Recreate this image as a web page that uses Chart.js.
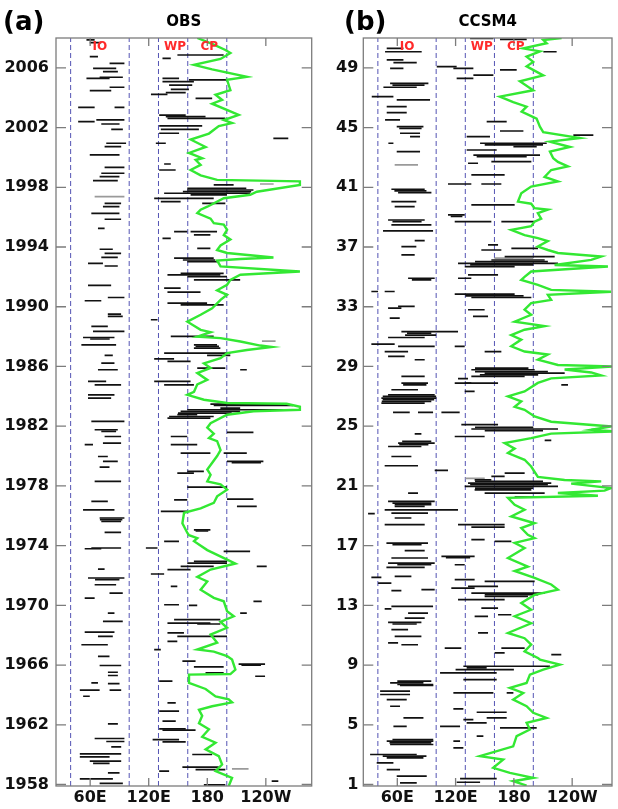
<!DOCTYPE html>
<html><head><meta charset="utf-8">
<script src="https://cdn.jsdelivr.net/npm/chart.js@4/dist/chart.umd.min.js"></script>
<style>
html,body{margin:0;padding:0;background:#fff;}
#wrap{position:relative;width:618px;height:809px;overflow:hidden;}
canvas{position:absolute;top:0;}
</style></head><body>
<div id="wrap"><canvas id="ca" width="318" height="809" style="left:0"></canvas><canvas id="cb" width="300" height="809" style="left:318px"></canvas></div>
<script>
// ---------- data ----------
const lonTicks = [60, 120, 180, 240];
const lonTickLabels = ['60E', '120E', '180', '120W'];
const regionBounds = [40, 100, 130, 160, 200];
const regionNames = ['IO', 'WP', 'CP'];
const regionCenters = [70, 147, 182];
const yearTicksA = [1958, 1962, 1966, 1970, 1974, 1978, 1982, 1986, 1990, 1994, 1998, 2002, 2006];
const yearTicksB = [1, 5, 9, 13, 17, 21, 25, 29, 33, 37, 41, 45, 49];

// green line: [time, longitude]
const greenA = [[2008.0,169.8],[2007.6,185],[2007.2,198.6],[2007.0,203.7],[2006.6,193.6],[2006.2,166.4],[2005.9,185],[2005.4,220.6],[2005.2,200.3],[2004.5,203.7],[2004.2,188.5],[2003.85,195.2],[2003.6,185],[2002.85,212.2],[2002.5,197],[2002.3,205.4],[2002.1,191.8],[2001.6,181.7],[2001.2,163],[2000.7,178.3],[2000.3,161.3],[1999.95,174.8],[1999.83,168.1],[1999.5,173.2],[1999.16,163],[1998.8,173.2],[1998.5,190.1],[1998.4,274.9],[1998.16,274.9],[1997.7,230.8],[1997.5,224],[1997.27,196.9],[1996.7,180],[1996.5,173.2],[1996.27,169.8],[1995.9,183.4],[1995.6,186.7],[1995.5,196.9],[1995.15,200.3],[1994.8,196.9],[1994.5,203.7],[1994.1,193.6],[1993.8,190.1],[1993.6,200.3],[1993.3,247.8],[1993.2,213.9],[1993.1,190.1],[1992.7,193.6],[1992.36,274.9],[1992.14,213.9],[1991.8,203.7],[1991.47,200.3],[1991.1,190.1],[1990.8,200.3],[1990.46,193.6],[1989.9,185],[1989.46,173.2],[1989.0,159.6],[1988.45,173.2],[1988.3,183.4],[1988.0,169.8],[1987.9,193.6],[1987.67,213.9],[1987.4,234.3],[1987.3,246],[1987.1,220.6],[1986.9,200.3],[1986.56,193.6],[1986.2,176.6],[1985.9,183.4],[1985.56,169.8],[1985.1,180],[1984.8,169.8],[1984.3,166.4],[1984.1,159.6],[1983.77,176.6],[1983.55,200.3],[1983.5,261.3],[1983.3,274.9],[1983.1,274.9],[1983.0,227.4],[1982.77,200.3],[1982.2,183.4],[1981.9,180],[1981.5,186.7],[1981.2,181.7],[1981.0,190.1],[1980.4,193.6],[1980.0,190.1],[1979.4,183.4],[1979.1,180],[1978.75,183.4],[1978.3,180],[1978.1,193.6],[1977.75,200.3],[1977.3,190.1],[1976.86,186.7],[1976.5,173.2],[1976.2,156.2],[1975.5,154.5],[1974.85,159.6],[1974.7,161.3],[1974.5,169.8],[1974.3,166.4],[1973.7,180],[1973.06,200.3],[1972.8,208.8],[1972.4,183.4],[1971.9,169.8],[1971.6,180],[1971.05,173.2],[1970.5,186.7],[1970.27,196.9],[1969.6,200.3],[1969.27,207.1],[1968.9,193.6],[1968.5,200.3],[1968.04,183.4],[1967.5,190.1],[1967.04,169.8],[1966.9,186.7],[1966.6,200.3],[1966.37,205.4],[1965.7,208.8],[1965.4,203.7],[1965.36,161.3],[1964.8,161.3],[1964.4,178.3],[1963.9,188.5],[1963.7,202],[1963.5,205.4],[1963.24,185],[1963.0,171.5],[1962.6,174.8],[1962.1,171.5],[1961.7,181.7],[1961.2,174.8],[1960.8,188.5],[1960.35,178.3],[1959.9,191.8],[1959.34,195.2],[1958.9,188.5],[1958.45,205.4],[1957.9,202]];

const greenB = [[51.0,229.1],[50.87,210.2],[50.65,213.7],[50.3,189.6],[50.1,206.8],[49.75,193.1],[49.4,199.9],[49.1,193.1],[48.5,210.2],[48.1,186.2],[47.5,199.9],[47.07,165.6],[46.7,179.3],[46.4,193.1],[46.07,188],[45.6,203.4],[45.06,206.8],[44.7,210.2],[44.3,248],[44.06,217.1],[43.7,237.7],[43.4,217.1],[42.95,220.5],[42.7,225.3],[42.4,235.6],[42.16,218.4],[41.7,211.6],[41.4,225.3],[41.05,197.8],[40.6,187.6],[40.04,184.2],[39.9,197.8],[39.6,201.3],[39.5,215],[39.27,204.7],[38.9,208.1],[38.7,201.3],[38.4,197.8],[38.15,177.3],[37.8,191],[37.6,204.7],[37.4,215],[37.03,204.7],[36.8,215],[36.6,225.3],[36.36,269.9],[36.14,259.6],[35.8,221.9],[35.7,276.8],[35.36,197.8],[35.0,191],[34.8,187.6],[34.47,204.7],[34.13,218.4],[34.0,280],[33.8,215],[33.46,218.4],[33.24,197.8],[32.8,191],[32.46,197.8],[32.0,180.8],[31.7,211.6],[31.46,191],[31.1,177.3],[30.8,187.6],[30.35,177.3],[30.0,191],[29.8,215],[29.45,204.7],[29.1,225.3],[29.0,284],[28.8,232.2],[28.6,259.6],[28.4,269.9],[28.2,218.4],[27.9,204.7],[27.33,191],[27.0,173.9],[26.66,187.6],[26.3,180.8],[26.1,191],[25.65,201.3],[25.3,218.4],[24.98,280],[24.76,259.6],[24.65,283],[24.5,218.4],[24.2,197.8],[23.87,170.5],[23.5,180.8],[23.2,173.9],[22.75,191],[22.3,197.8],[21.6,204.7],[21.4,232.2],[21.3,269.9],[21.15,239],[20.86,280],[20.68,273.3],[20.52,225.3],[20.34,266.5],[20.2,173.9],[19.74,180.8],[19.4,191],[18.96,177.3],[18.5,201.3],[18.18,187.6],[17.73,194.4],[17.5,201.3],[17.18,180.8],[16.84,191],[16.17,173.9],[15.6,194.4],[15.3,180.8],[14.84,201.3],[14.4,218.4],[14.05,225.3],[13.7,201.3],[13.16,187.6],[12.7,197.8],[12.27,180.8],[11.8,197.8],[11.15,173.9],[10.8,191],[10.37,197.8],[9.92,191],[9.48,204.7],[9.37,206.8],[9.03,227.4],[8.7,210.2],[8.36,196.5],[7.8,193.1],[7.47,175.9],[7.13,189.6],[6.69,179.3],[6.24,193.1],[5.8,199.9],[5.46,213.7],[5.13,193.1],[4.68,196.5],[4.24,182.8],[3.56,179.3],[2.9,145],[2.67,169],[2.12,158.7],[1.78,175.9],[1.45,199.9],[1.22,179.3],[0.93,193.1]];

// events: [time, west longitude, east longitude]
const eventsA = [
[2007.87,56.2,64.6],[2007.69,59.6,71.4],[2006.75,59.6,68],[2006.3,79.9,95.1],[2005.97,63,86.7],[2005.75,73.1,88.4],[2005.3,56.2,79.9],[2005.37,69.7,93.5],[2004.7,79.9,95.1],[2004.47,59.6,81.6],[2003.36,47.7,64.6],[2003.36,85,95.1],[2002.51,66.3,95.1],[2002.4,47.7,64.6],[2002.24,71.4,90.1],[2001.88,81.6,93.5],[2000.95,76.5,96.8],[2000.72,74.8,91.8],[2000.17,59.6,90.1],
[2006.86,149.4,196.8],[2006.64,134.1,142.6],[2005.3,134.1,151.1],[2005.08,134.1,166.3],[2004.85,140.9,164.6],[2005.19,161.2,200.2],[2004.23,122.3,139.2],[2004.34,137.5,157.9],[2004.56,142.6,161.2],[2003.96,168,185],[2002.84,130.7,157.9],[2002.73,137.5,178.2],[2002.62,139.2,198.5],[2002.11,130.7,174.8],[2001.88,132.4,171.4],[2001.62,130.7,151.1],[2000.95,127.3,137.5],[2001.28,247.7,263],
[1999.34,74.8,95.1],[1998.94,71.4,95.1],[1998.71,69.7,90],[1998.45,62.9,88.3],[1996.93,74.8,91.7],[1996.7,73.1,90],[1996.26,61.2,90],[1995.86,74.8,91.7],[1995.25,68,74.8],[1993.85,69.7,83.2],[1993.58,74.8,91.7],[1993.31,71.4,88.3],[1992.91,57.8,73.1],[1992.73,74.8,88.3],
[1999.56,135.8,142.6],[1999.16,130.7,147.6],[1998.16,186.6,207],[1997.93,159.5,220],[1997.82,159.5,227.3],[1997.71,155,225],[1997.6,135.8,223.9],[1997.49,162.9,200.2],[1997.26,125.6,186.6],[1997.04,132.4,152.7],[1996.93,174.8,198.5],[1995.03,146,159.5],[1995.03,162.9,190],[1994.81,166.3,183.2],[1994.58,134.1,142.6],[1993.91,169.7,183.2],[1993.25,146,186.6],[1993.13,155,188],[1993.02,159.5,190],[1992.24,152.7,196.8],[1992.13,139.2,193.4],[1992.02,159.5,200.2],[1991.8,166.3,213.7],
[1991.43,57.8,81.5],[1990.62,78.1,95.1],[1990.4,54.4,71.4],[1989.51,78.1,91.7],[1989.35,78.1,93.4],[1988.68,61.2,78.1],[1988.35,62.9,95.1],[1987.94,52.7,84.9],[1987.84,60,80],[1987.45,51,86.6],[1986.74,74.8,83.2],[1986.23,71.4,84.9],[1985.78,68,88.3],[1985.0,57.8,76.4],[1984.77,64.6,91.7],[1984.1,57.8,84.9],[1983.88,57.8,81.5],
[1991.25,135.8,152.7],[1990.98,139.2,173.1],[1990.24,139.2,179.8],[1990.13,152.7,196.8],[1989.13,122.2,129],[1988.01,142.6,186.6],[1987.45,166.3,190],[1987.34,168,192],[1987.23,166.3,193.4],[1986.9,135.8,203.6],[1986.74,179.8,203.6],[1986.51,125.6,146],[1986.34,139.2,162.9],[1985.89,169.7,198.5],[1985.78,213.7,220.5],[1985.0,125.6,162.9],[1984.77,135.8,166.3],[1983.48,183.2,261.2],[1983.39,186.6,268],[1983.21,193.4,213.7],
[1983.1,159.5,268],[1982.99,152.7,213.7],[1982.88,150,205],[1982.77,149.3,169.7],[1982.65,140.9,186.6],[1982.54,139.2,183.2],
[1982.32,61.2,95.1],[1981.76,64.6,88.3],[1981.65,71.4,86.6],[1981.31,74.8,91.7],[1980.76,54.4,62.9],[1980.87,73.1,91.7],[1979.97,68,78.1],[1979.64,73.1,88.3],[1979.26,69.7,79.8],[1978.3,64.6,91.7],[1976.96,61.2,78.1],[1976.4,52.7,84.9],[1975.85,69.7,95.1],[1975.74,70,93],[1975.62,71.4,91.7],[1974.89,74.8,91.7],
[1981.58,200.2,227.3],[1981.31,142.6,159.5],[1980.76,142.6,169.7],[1980.2,152.7,183.2],[1980.2,196.8,220.5],[1979.64,200.2,237.5],[1979.55,205,235],[1978.86,149.3,166.3],[1978.97,159.5,176.5],[1977.92,159.5,200.2],[1977.12,200.2,227.3],[1976.63,210.4,230.7],[1977.07,146,159.5],[1976.29,132.4,159.5],[1975.06,166.3,183.2],[1974.98,168,181],
[1973.84,61.2,91.7],[1973.79,54.4,71.4],[1972.43,68,74.8],[1971.83,57.8,95.1],[1971.72,65,90],[1971.38,64.6,86.6],[1970.82,79.8,93.4],[1970.49,54.4,64.6],[1969.48,78.1,84.9],[1968.93,73.1,93.4],[1968.21,54.4,84.9],[1967.92,68,83.2],[1967.36,51,78.1],[1966.58,68,79.8],
[1974.28,135.8,151],[1973.84,117.1,129],[1972.94,166.3,200.2],[1972.83,159.5,200.2],[1972.61,152.7,186.6],[1972.39,139.2,162.9],[1972.1,122.2,135.8],[1973.61,196.8,223.9],[1971.27,142.6,149.3],[1970.04,135.8,151],[1970.0,161.2,169.7],[1969.04,146,193.4],[1968.81,139.2,183.2],[1968.75,169.7,193.4],[1968.15,139.2,156.1],[1967.92,149.3,200.2],[1967.59,139.2,149.3],[1967.03,125.6,132.4],[1969.48,213.7,220.5],[1972.61,230.7,240.9],[1970.27,227.3,235.8],
[1965.97,69.7,91.8],[1965.52,78.2,88.4],[1965.3,78.2,88.4],[1964.81,61.2,68],[1964.76,78.2,90.1],[1964.32,49.4,69.7],[1964.32,79.9,91.8],[1963.91,52.8,59.6],[1962.06,78.2,88.4],[1961.08,64.6,95.1],[1960.88,76.5,95.1],[1960.52,81.6,91.8],[1960.05,49.4,91.8],[1959.85,49.4,79.9],[1959.56,59.6,91.8],[1959.41,63,79.9],[1958.78,78.2,90.1],[1958.38,49.4,83.3],[1958.07,69.7,93.5],
[1966.26,154.5,168],[1966.06,212.1,239.2],[1966.0,215,235],[1965.88,166.3,196.8],[1965.48,178.2,196.8],[1965.25,229.1,239.2],[1964.92,130.7,144.3],[1963.47,139.2,147.7],[1962.91,130.7,151.1],[1962.24,134.1,147.7],[1961.73,130.7,157.9],[1961.64,134.1,168],[1961.01,124,151.1],[1960.86,134.1,157.9],[1960.01,164.6,185],[1959.16,154.5,191.8],[1959.0,168,198.5],[1958.89,130.7,140.9],[1958.22,246,252.8],[1957.98,176.5,198.5]
];
const eventsGrayA = [[1959.05,205.3,222.3],[1997.37,64.6,95.1],[1998.22,234,248],[1987.7,236,250]];

const eventsB = [
[50.08,47.4,85.1],[50.31,49.1,66.3],[49.53,49.1,66.3],[49.35,56,80],[48.97,52.6,66.3],[47.96,52.6,92],[47.85,55,88],[47.7,45.7,80],[47.07,33.7,56],[46.85,59.4,93.7],[46.4,49.1,69.7],[46.0,49.1,69.7],[45.51,47.4,62.8],[45.06,59.4,86.9],[44.95,62,85],[44.62,62.8,83.4],[44.39,73.1,83.4],[43.95,50.8,56],[43.39,59.4,83.4],
[49.08,100.6,121.1],[48.97,117.7,138.3],[48.52,138.3,158.9],[48.3,121.1,138.3],[48.86,165.7,182.9],[50.08,210.3,224],[50.98,134.9,158.9],[50.91,165.7,193.2],[45.4,152,172.6],[44.77,165.7,189.8],[44.39,131.4,155.4],[43.95,145.2,213.8],[43.84,150,210],[43.72,179.5,203.5],[43.5,131.4,162.3],[44.5,241.2,261.8],[43.16,138.3,206.9],[43.05,141.7,193.2],
[40.87,53.9,88.2],[40.76,57,90],[40.64,60.8,95.1],[40.04,53.9,79.6],[39.71,57.3,77.9],[38.81,50.5,88.2],[38.7,55,85],[38.48,53.9,95.1],[38.08,45.3,96.8],[37.43,77.9,88.2],[37.03,64.2,79.6],[36.47,64.2,77.9],[34.91,71.1,98.5],[34.8,75,95],
[42.72,156.8,198],[42.61,132.8,143.1],[41.83,136.2,170.5],[41.22,112.2,136.2],[41.22,146.5,167.1],[39.82,136.2,180.8],[39.15,112.2,129.4],[39.05,115,127],[38.7,167.1,201.4],[38.7,119.1,156.8],[37.14,153.4,163.7],[36.8,146.5,167.1],[36.91,177.4,204.8],[36.36,170.5,222],[36.13,156.8,211.7],[36.02,140,215],[35.91,122.5,225.4],[35.8,135,200],[35.69,129.4,180.8],[35.13,132.8,163.7],[34.91,122.5,136.2],
[34.02,33.3,40.2],[34.02,47,57.3],[33.02,60.8,77.9],[32.91,50.5,64.2],[32.24,52.2,62.5],[31.34,64.2,122.5],[31.23,70,95],[31.1,68,100],[30.94,50.5,88.2],[30.5,33.3,57.3],[30.34,60.8,98.5],[30.0,47,71.1],[29.67,50.5,67.6],[29.45,77.9,88.2],[28.33,64.2,88.2],[27.88,64.2,91.6],[27.77,66,90],[27.44,53.9,81.3],[27.1,50.5,98.5],[26.99,45,100],[26.88,43.6,100.2],[26.77,45,98],[26.66,44,95],[26.55,43.6,88.2],
[33.84,119.1,180.8],[33.73,130,190],[33.62,136.2,198],[32.8,132.8,149.9],[32.35,137.9,153.4],[30.34,119.1,129.4],[30.0,149.9,167.1],[28.89,140,195],[28.78,136.2,201.4],[28.66,140,215],[28.55,149.9,232.3],[28.44,145,205],[28.33,136.2,191.1],[28.18,122.5,132.8],[27.88,119.1,136.2],[27.88,129.4,163.7],[27.33,129.4,139.6],[27.77,228.8,235.7],
[25.92,55.6,72.8],[25.92,81.3,96.8],[25.92,105.4,124.2],[24.49,77.9,84.8],[23.98,65,95],[23.87,60.8,98.5],[23.76,62,92],[23.64,50.5,84.8],[22.97,53.9,74.5],[22.35,47,81.3],[22.04,98.5,112.2],[20.52,71.1,81.3],[19.96,50.5,98.5],[19.85,55,95],[19.74,57.3,95.1],[19.63,57.3,88.2],[19.4,47,122.5],[19.18,53.9,91.6],[19.14,29.9,36.8],[18.85,57.3,74.5],[18.4,47,88.2],
[25.1,125.9,163.7],[24.92,140,200],[24.81,136.2,225.4],[24.7,150,210],[24.31,119.1,149.9],[24.05,211.7,218.5],[21.86,170.5,191.1],[21.64,156.8,170.5],[21.41,139.6,156.8],[21.3,140,210],[21.19,132.8,218.5],[21.08,135,215],[20.97,129.4,225.4],[20.85,140,200],[20.74,139.6,198],[20.52,149.9,211.7],[20.25,180.8,201.4],[18.4,122.5,170.5],[18.24,136.2,170.5],
[17.17,48.8,91.6],[17.06,55,85],[16.66,67.6,88.2],[16.17,53.9,91.6],[15.83,50.5,98.5],[15.72,60,95],[15.54,48.8,88.2],[14.94,57.3,74.5],[14.87,33.3,43.6],[14.49,40.2,53.9],[14.05,84.8,98.5],[13.98,53.9,64.2],[12.93,53.9,96.8],[12.77,47,53.9],[12.48,71.1,91.6],[12.15,67.6,88.2],[11.86,50.5,84.8],[11.75,55,80],[11.37,53.9,71.1],[10.92,57.3,84.8],[10.48,50.5,60.8],[10.36,64.2,81.3],
[17.4,136.2,149.9],[17.28,160.2,177.4],[16.28,105.4,139.6],[16.2,110,135],[15.72,119.1,129.4],[14.72,119.1,139.6],[14.6,149.9,201.4],[14.27,132.8,163.7],[14.16,115.6,139.6],[13.82,136.2,211.7],[13.71,150,205],[13.6,149.9,194.5],[13.38,122.5,170.5],[12.82,146.5,163.7],[12.37,163.7,177.4],[12.26,139.6,153.4],[11.15,143.1,153.4],[10.14,167.1,191.1],[10.14,108.8,125.9],[9.81,160.2,170.5],[9.7,218.5,228.8],
[7.92,60,95],[7.81,52.6,86.9],[7.7,60,97],[7.63,62.8,97.1],[7.25,42.3,73.1],[7.03,42.3,73.1],[6.69,49.1,69.7],[6.24,52.6,62.8],[5.46,66.3,86.9],[4.9,56,69.7],[4.01,55,97],[3.9,49.1,97.1],[3.79,52,95],[3.68,52.6,97.1],[3.01,32,80],[2.9,45,90],[2.78,49.1,86.9],[2.45,38.8,56],[2.0,49.1,62.8],[1.56,59.4,90.3],[1.11,62.8,80],
[8.92,128,217.2],[8.81,131.4,152],[8.7,120,180],[8.48,104,162.3],[8.03,128,162.3],[7.14,117.7,158.9],[7.14,172.6,179.5],[6.07,117.7,128],[5.84,141.7,172.6],[5.46,152,172.6],[5.35,128,138.3],[5.13,131.4,152],[4.9,104,124.6],[4.79,165.7,203.5],[4.24,141.7,148.6],[3.9,117.7,124.6],[3.45,117.7,128],[1.4,124.6,162.3],[1.15,121.1,145.2]
];
const eventsGrayB = [[42.5,57.3,81.3],[36.25,160,200],[21.5,130,150]];

// ---------- drawing ----------
const FONT = 'DejaVu Sans';
const panels = [
  {id:'ca', width:318, plotLeft:56, plotRight:311.7, labelPad:7, letter:'(a)', letterX:3, title:'OBS',
   xMin:25, xMax:287, yMin:1957.9, yMax:2008.0, yTicks:yearTicksA, events:eventsA, gray:eventsGrayA, green:greenA},
  {id:'cb', width:300, plotLeft:45.3, plotRight:294, labelPad:5, letter:'(b)', letterX:26, title:'CCSM4',
   xMin:25, xMax:281, yMin:0.9, yMax:51.0, yTicks:yearTicksB, events:eventsB, gray:eventsGrayB, green:greenB}
];

function buildPanel(p){
  const datasets = [
    {type:'line', data:p.green.map(d=>({x:d[1], y:d[0]})), borderColor:'#33e833', borderWidth:2.4,
     pointRadius:0, tension:0, fill:false, order:0, indexAxis:'y'},
    {type:'bar', data:p.events.map(d=>({y:d[0], x:[d[1], d[2]]})), backgroundColor:'#111',
     barThickness:1.7, inflateAmount:0, grouped:false, order:1},
    {type:'bar', data:p.gray.map(d=>({y:d[0], x:[d[1], d[2]]})), backgroundColor:'#9a9a9a',
     barThickness:1.7, inflateAmount:0, grouped:false, order:2}
  ];
  regionBounds.forEach(b=>{
    datasets.push({type:'line', data:[{x:b, y:p.yMin},{x:b, y:p.yMax}], borderColor:'#5454b4',
      borderWidth:1, borderDash:[5,3], pointRadius:0, fill:false, order:3, indexAxis:'y'});
  });
  const tickFont = {family:FONT, size:16, weight:'bold'};
  const decor = {
    id:'decor'+p.id,
    afterDatasetsDraw(chart){
      const c = chart.ctx, a = chart.chartArea, xs = chart.scales.x, ys = chart.scales.y;
      c.save();
      c.strokeStyle = '#7c7c7c'; c.lineWidth = 1.3;
      c.strokeRect(a.left, a.top, a.right - a.left, a.bottom - a.top);
      c.beginPath();
      p.yTicks.forEach(v=>{
        const py = ys.getPixelForValue(v);
        c.moveTo(a.left, py); c.lineTo(a.left + 10, py);
        c.moveTo(a.right - 10, py); c.lineTo(a.right, py);
      });
      lonTicks.forEach(v=>{
        const px = xs.getPixelForValue(v);
        c.moveTo(px, a.bottom); c.lineTo(px, a.bottom - 8);
        c.moveTo(px, a.top); c.lineTo(px, a.top + 8);
      });
      c.stroke();
      c.fillStyle = '#ff2a2a'; c.font = 'bold 12px ' + FONT;
      c.textAlign = 'center'; c.textBaseline = 'middle';
      regionNames.forEach((n,i)=>{ c.fillText(n, xs.getPixelForValue(regionCenters[i]), a.top + 9); });
      c.restore();
    },
    afterDraw(chart){
      const c = chart.ctx, a = chart.chartArea;
      c.save();
      c.fillStyle = '#000'; c.textBaseline = 'alphabetic';
      c.font = 'bold 26px ' + FONT; c.textAlign = 'left';
      c.fillText(p.letter, p.letterX, 30);
      c.font = 'bold 15px ' + FONT; c.textAlign = 'center';
      c.fillText(p.title, (a.left + a.right) / 2, 26);
      c.restore();
    }
  };
  new Chart(document.getElementById(p.id), {
    type:'bar',
    data:{datasets},
    options:{
      responsive:false, animation:false, indexAxis:'y',
      layout:{padding:{top:38, left:0, right:p.width - p.plotRight, bottom:0}},
      plugins:{legend:{display:false}, tooltip:{enabled:false}, title:{display:false}},
      scales:{
        x:{type:'linear', position:'bottom', min:p.xMin, max:p.xMax, beginAtZero:false, offset:false,
           grid:{display:false, drawTicks:false}, border:{display:false},
           afterBuildTicks:s=>{ s.ticks = lonTicks.map(v=>({value:v})); },
           afterFit:s=>{ s.height = 23; },
           ticks:{padding:2, autoSkip:false, maxRotation:0, font:tickFont, color:'#111',
                  callback:(v,i)=>lonTickLabels[i]}},
        y:{type:'linear', position:'left', min:p.yMin, max:p.yMax, offset:false, beginAtZero:false,
           grid:{display:false, drawTicks:false, offset:false}, border:{display:false},
           afterBuildTicks:s=>{ s.ticks = p.yTicks.map(v=>({value:v})); },
           afterFit:s=>{ s.width = p.plotLeft; },
           ticks:{padding:p.labelPad, autoSkip:false, font:tickFont, color:'#111',
                  callback:(v)=>String(v)}}
      }
    },
    plugins:[decor]
  });
}
panels.forEach(buildPanel);
</script>
</body></html>
